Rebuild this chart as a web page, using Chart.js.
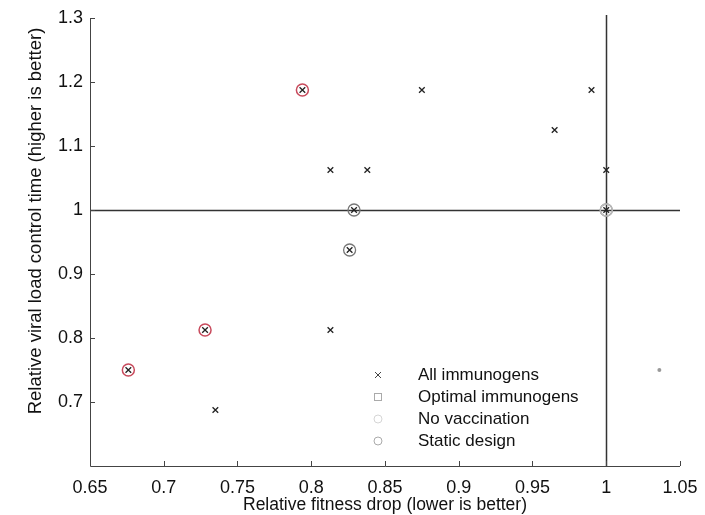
<!DOCTYPE html>
<html><head><meta charset="utf-8">
<script src="https://cdn.jsdelivr.net/npm/chart.js@4"></script>
<style>html,body{margin:0;padding:0;background:#fff}#wrap{width:705px;height:515px}</style>
</head><body><div id="wrap"><canvas id="c" width="705" height="515"></canvas></div>
<script>
const allX = [0.875, 0.99, 0.965, 0.813, 0.838, 1.0, 0.813, 0.735, 0.794, 0.829, 0.826, 0.728, 0.676, 1.0];
const allY = [1.1875, 1.1875, 1.125, 1.0625, 1.0625, 1.0625, 0.8125, 0.6875, 1.1875, 1.0, 0.9375, 0.8125, 0.75, 1.0];
const optX = [0.794, 0.728, 0.676];
const optY = [1.1875, 0.8125, 0.75];
const noVacX = [1.0];
const noVacY = [1.0];
const staticX = [0.829, 0.826, 1.0];
const staticY = [1.0, 0.9375, 1.0];
const otherX = [1.036];
const otherY = [0.75];
const refX = 1.0, refY = 1.0;
const xTicks = [0.65, 0.7, 0.75, 0.8, 0.85, 0.9, 0.95, 1, 1.05];
const yTicks = [0.7, 0.8, 0.9, 1, 1.1, 1.2, 1.3];
const seriesNames = ['All immunogens', 'Optimal immunogens', 'No vaccination', 'Static design'];
const xTitle = 'Relative fitness drop (lower is better)';
const yTitle = 'Relative viral load control time (higher is better)';

const pts = (xs, ys) => xs.map((x, i) => ({x, y: ys[i]}));
const FONT = "'Liberation Sans', Arial, sans-serif";

const refLines = {
  id: 'refLines',
  beforeDatasetsDraw(chart) {
    const {ctx, chartArea: a, scales: {x, y}} = chart;
    ctx.save();
    ctx.strokeStyle = '#333'; ctx.lineWidth = 1.5;
    const px = Math.round(x.getPixelForValue(refX)) + 0.5;
    const py = Math.round(y.getPixelForValue(refY)) + 0.5;
    ctx.beginPath(); ctx.moveTo(a.left, py); ctx.lineTo(a.right, py); ctx.stroke();
    ctx.beginPath(); ctx.moveTo(px, a.top - 3); ctx.lineTo(px, a.bottom); ctx.stroke();
    ctx.strokeStyle = '#444'; ctx.lineWidth = 1;
    ctx.beginPath();
    ctx.moveTo(a.left + 0.5, a.top); ctx.lineTo(a.left + 0.5, a.bottom + 0.5); ctx.lineTo(a.right, a.bottom + 0.5);
    xTicks.forEach(v => { const p = Math.round(x.getPixelForValue(v)) + 0.5; ctx.moveTo(p, a.bottom); ctx.lineTo(p, a.bottom - 5); });
    yTicks.forEach(v => { const p = Math.round(y.getPixelForValue(v)) + 0.5; ctx.moveTo(a.left, p); ctx.lineTo(a.left + 5, p); });
    ctx.stroke();
    ctx.restore();
  },
  afterDraw(chart) {
    const {ctx, chartArea: a} = chart;
    ctx.save();
    ctx.font = '18.5px ' + FONT; ctx.fillStyle = '#111'; ctx.textAlign = 'center'; ctx.textBaseline = 'middle';
    ctx.translate(36, a.top + 203); ctx.rotate(-Math.PI / 2); ctx.fillText(yTitle, 0, 0);
    ctx.restore();
    ctx.save();
    const mx = a.left + 288, tx = a.left + 328, y0 = a.top + 357, dy = 22;
    ctx.font = '17px ' + FONT; ctx.fillStyle = '#111'; ctx.textBaseline = 'middle'; ctx.textAlign = 'left';
    seriesNames.forEach((name, i) => {
      const yy = y0 + i * dy;
      ctx.fillText(name, tx, yy);
      ctx.lineWidth = 1;
      if (i === 0) {
        ctx.strokeStyle = '#444'; ctx.beginPath();
        ctx.moveTo(mx - 3, yy - 3); ctx.lineTo(mx + 3, yy + 3); ctx.moveTo(mx + 3, yy - 3); ctx.lineTo(mx - 3, yy + 3); ctx.stroke();
      } else if (i === 1) {
        ctx.strokeStyle = '#aaa'; ctx.strokeRect(mx - 3.5, yy - 3.5, 7, 7);
      } else {
        ctx.strokeStyle = i === 2 ? '#d5d5d5' : '#aaa';
        ctx.beginPath(); ctx.arc(mx, yy, 4, 0, Math.PI * 2); ctx.stroke();
      }
    });
    ctx.restore();
  }
};

new Chart(document.getElementById('c'), {
  type: 'scatter',
  data: {
    datasets: [
      {label: seriesNames[0], data: pts(allX, allY), pointStyle: 'crossRot', pointRadius: 4, borderColor: '#222', borderWidth: 1.3, backgroundColor: '#222'},
      {label: seriesNames[1], data: pts(optX, optY), pointStyle: 'circle', pointRadius: 6, borderColor: '#c84a5c', borderWidth: 1.5, backgroundColor: 'rgba(0,0,0,0)'},
      {label: seriesNames[2], data: pts(noVacX, noVacY), pointStyle: 'circle', pointRadius: 6, borderColor: '#bbb', borderWidth: 1.5, backgroundColor: 'rgba(0,0,0,0)'},
      {label: seriesNames[3], data: pts(staticX, staticY), pointStyle: 'circle', pointRadius: 6, borderColor: '#777', borderWidth: 1.3, backgroundColor: 'rgba(0,0,0,0)'},
      {label: 'other', data: pts(otherX, otherY), pointStyle: 'circle', pointRadius: 2, borderColor: '#999', backgroundColor: '#999', borderWidth: 0}
    ]
  },
  options: {
    responsive: false, animation: false,
    layout: {padding: {left: 0, right: 25, top: 18, bottom: 0}},
    plugins: {tooltip: {enabled: false}, legend: {display: false}},
    scales: {
      x: {
        type: 'linear', min: 0.65, max: 1.05,
        afterBuildTicks: s => { s.ticks = xTicks.map(v => ({value: v})); },
        afterFit: s => { s.height = 49; s.paddingRight = 18; s.paddingLeft = 18; },
        grid: {display: false, drawTicks: false}, border: {display: false},
        ticks: {font: {family: FONT, size: 18}, color: '#111', padding: 11, callback: v => String(v), maxRotation: 0, autoSkip: false},
        title: {display: true, text: xTitle, font: {family: FONT, size: 17.5}, color: '#111', padding: {top: 0, bottom: -1}}
      },
      y: {
        type: 'linear', min: 0.6, max: 1.3,
        afterBuildTicks: s => { s.ticks = yTicks.map(v => ({value: v})); },
        afterFit: s => { s.width = 90; },
        grid: {display: false, drawTicks: false}, border: {display: false},
        ticks: {font: {family: FONT, size: 18}, color: '#111', padding: 7, callback: v => String(v), autoSkip: false},
        title: {display: false}
      }
    }
  },
  plugins: [refLines]
});
</script></body></html>
